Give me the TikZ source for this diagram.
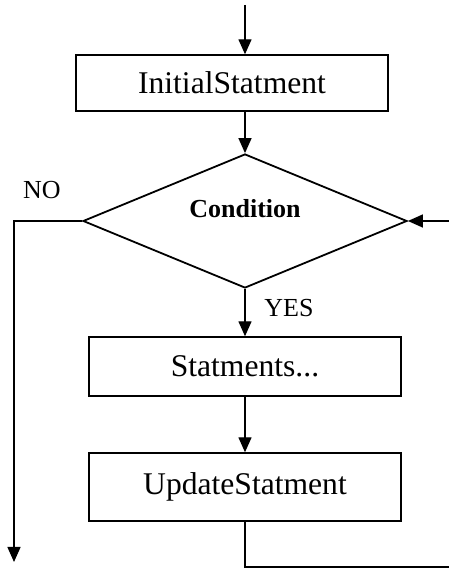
\documentclass[tikz,border=0pt]{standalone}
\usepackage{fontspec}
\setmainfont{Liberation Serif}
\usetikzlibrary{shapes.geometric,arrows.meta}
\begin{document}
\begin{tikzpicture}[x=1pt,y=1pt,
box/.style ={rectangle, draw, line width=1.4pt,
  minimum width=312pt, inner sep=0pt,
  font=\fontsize{31.6}{36}\selectfont
},
decide/.style ={diamond, draw, line width=1.8pt,
  minimum width=324pt, minimum height=134pt, inner sep=0pt
},
lbl/.style ={inner sep=0pt, font=\fontsize{26}{30}\selectfont},
flow/.style ={line width=1.4pt, -{Triangle[length=15pt,width=13pt]}}
]
\useasboundingbox (0,0) rectangle (448,568);
\node (init) at (232,485) [box, minimum height=56pt] {InitialStatment};
\node (cond) at (245,347) [decide] {};
\node (condtxt) at (245,359) [lbl] {\bfseries Condition};
\node (stmt) at (245,201.5) [box, minimum height=59pt] {Statments...};
\node (upd) at (245,81) [box, minimum height=68pt] {UpdateStatment};

\node (no) at (42,378) [lbl] {NO};
\node (yes) at (289,260) [lbl] {YES};

\coordinate (top) at (245,563);
\coordinate (exit) at (14,6);
\coordinate (back) at (450,1);

\draw[flow] (top) -- (top |- init.north);
\draw[flow] (top |- init.south) -- (cond.north);
\draw[flow] (cond.south) -- (stmt.north);
\draw[flow] (stmt.south) -- (upd.north);
\draw[flow] (cond.west) -| (exit);
\draw[flow] (upd.south) |- (back) -- (back |- cond) -- (cond.east);
\end{tikzpicture}
\end{document}
